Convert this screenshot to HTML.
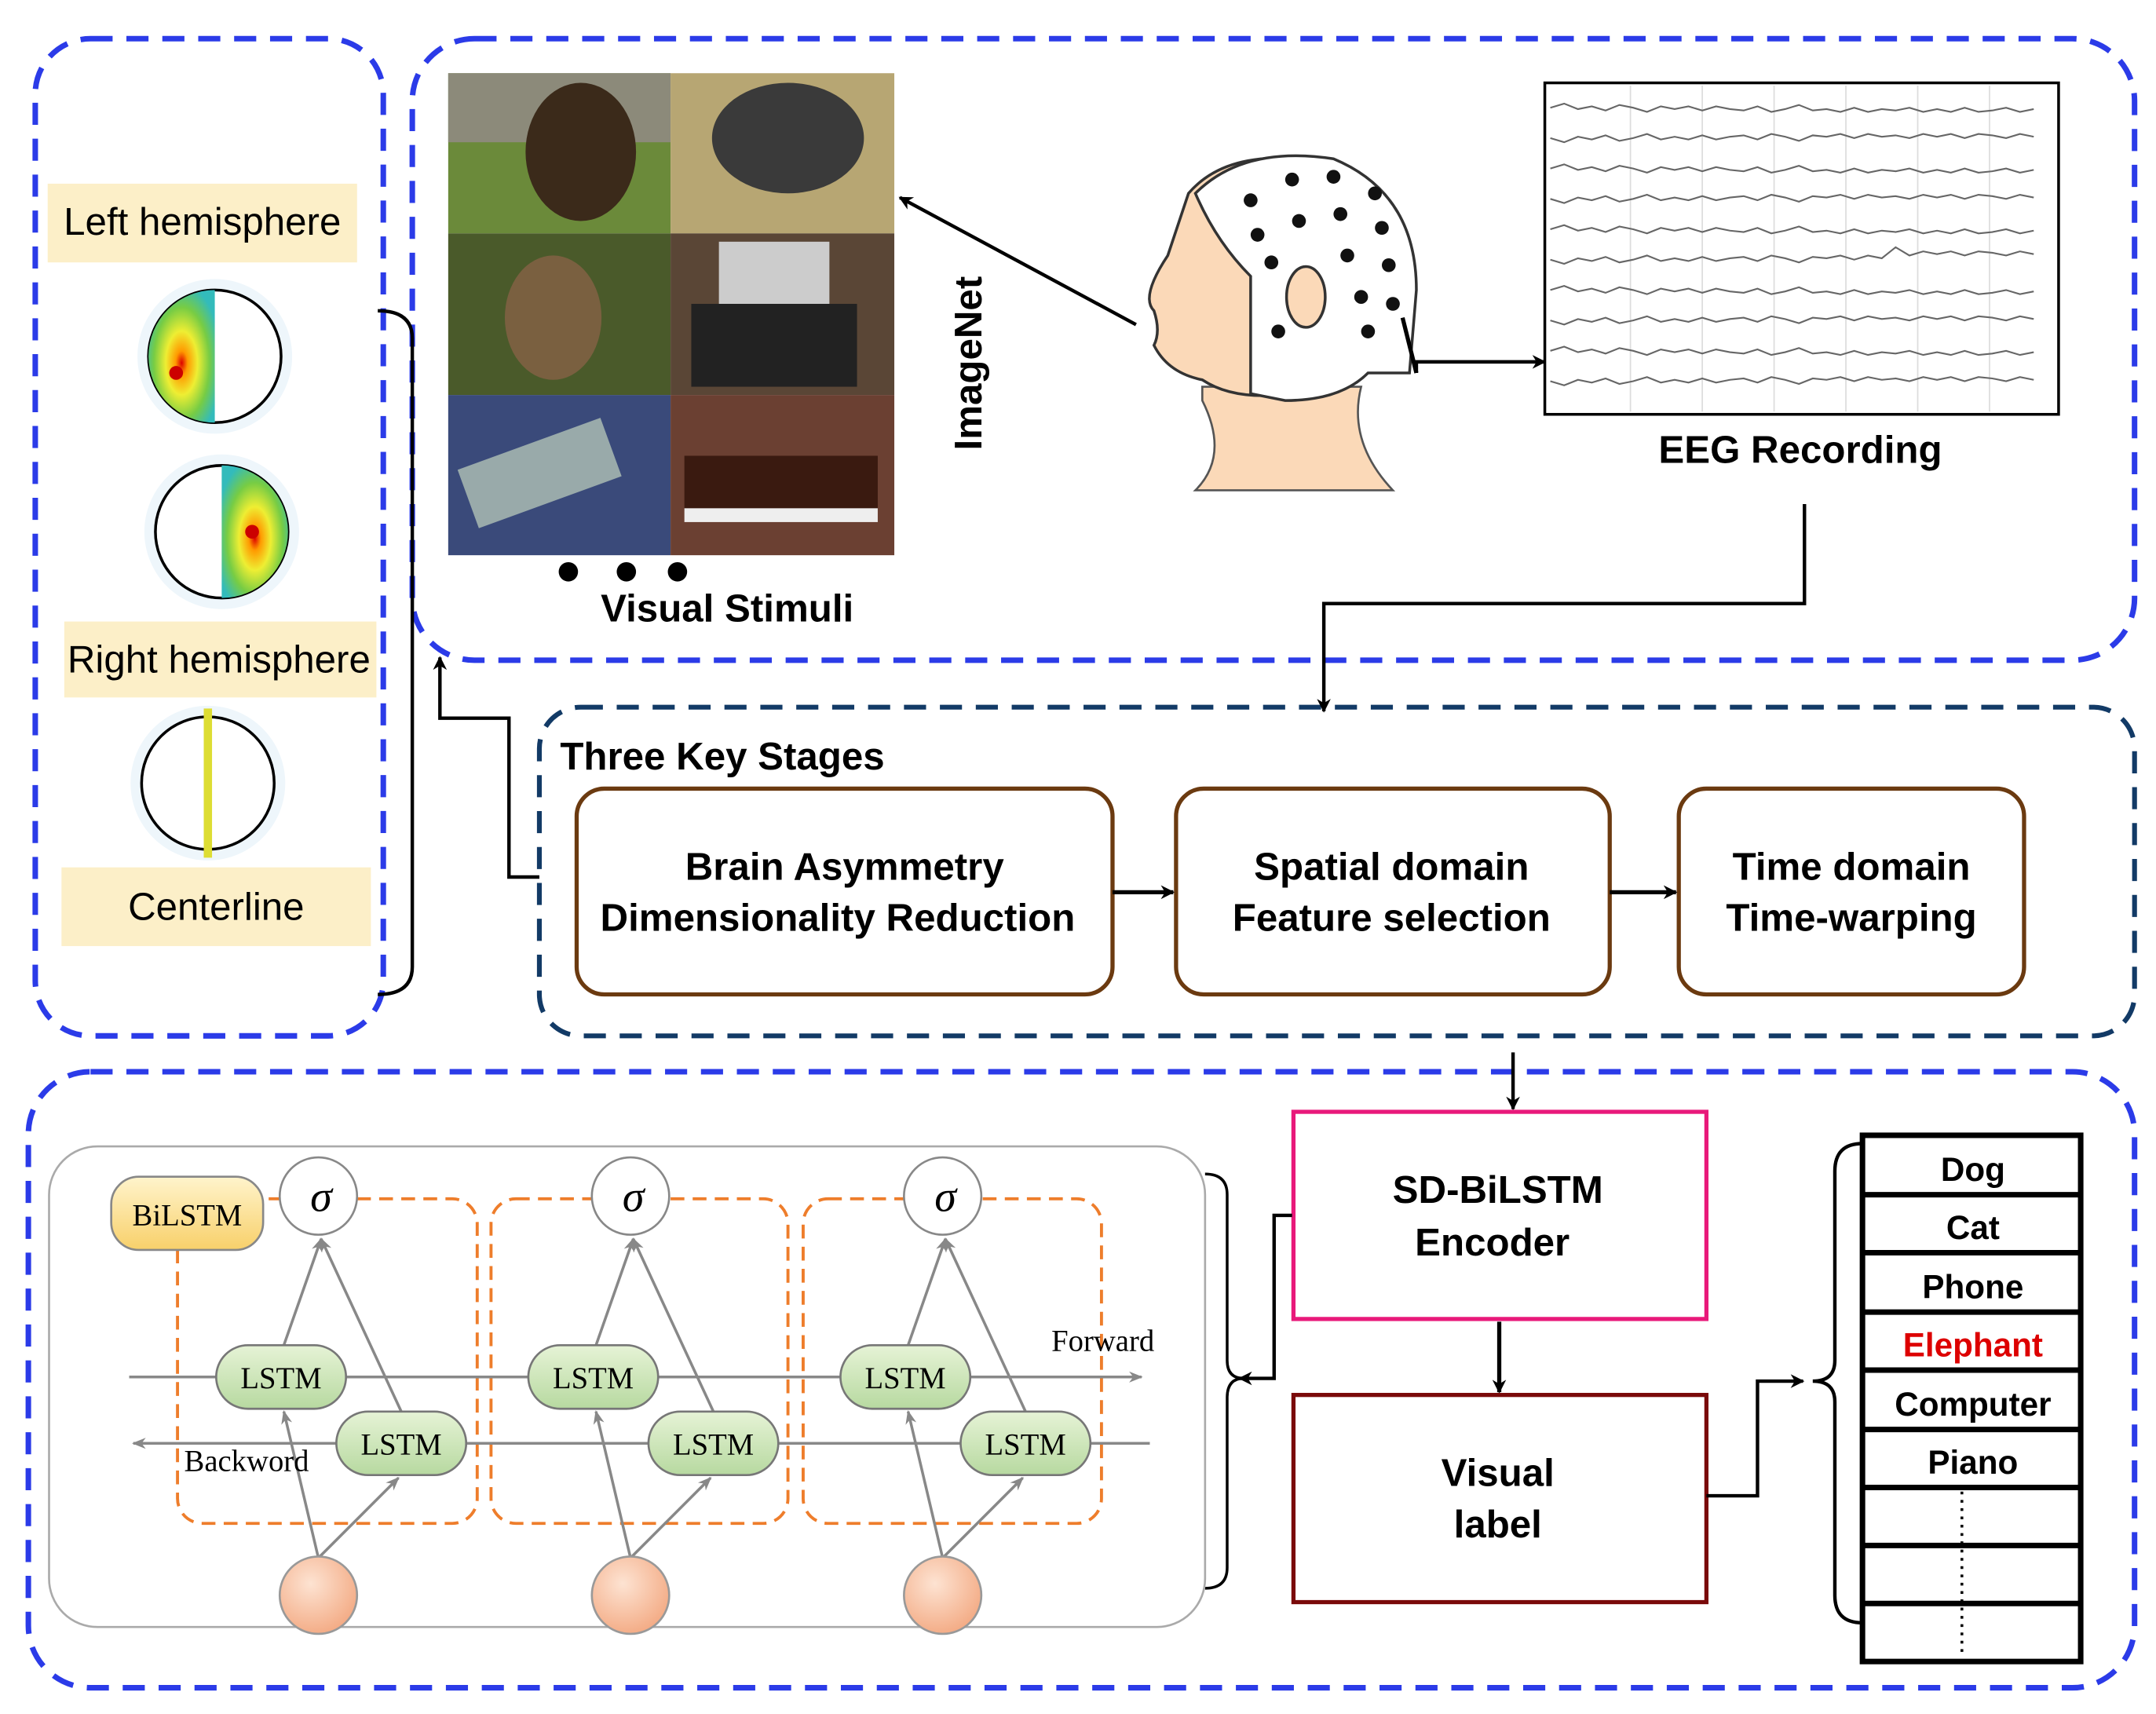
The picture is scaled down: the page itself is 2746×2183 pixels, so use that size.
<!DOCTYPE html>
<html><head><meta charset="utf-8"><style>
html,body{margin:0;padding:0;background:#fff;}
svg{display:block;}
.b{font-family:"Liberation Sans",sans-serif;font-weight:bold;}
.s{font-family:"Liberation Serif",serif;}
</style></head><body>
<svg width="2746" height="2183" viewBox="0 0 1560 1241" xmlns="http://www.w3.org/2000/svg">
<defs>
<marker id="a" markerWidth="10" markerHeight="10" refX="9" refY="5" orient="auto" markerUnits="userSpaceOnUse"><path d="M0,0 L10,5 L0,10 L3,5z" fill="#000"/></marker>
<marker id="ag" markerWidth="10" markerHeight="10" refX="9" refY="5" orient="auto" markerUnits="userSpaceOnUse"><path d="M0,1 L10,5 L0,9 L3,5z" fill="#888"/></marker>
<linearGradient id="gl" x1="0" y1="0" x2="0" y2="1"><stop offset="0" stop-color="#e6f3d6"/><stop offset="1" stop-color="#b7d9a0"/></linearGradient>
<linearGradient id="gy" x1="0" y1="0" x2="0" y2="1"><stop offset="0" stop-color="#fff4cc"/><stop offset="1" stop-color="#f8d06a"/></linearGradient>
<radialGradient id="gp" cx="0.4" cy="0.35" r="0.7"><stop offset="0" stop-color="#fde3d2"/><stop offset="1" stop-color="#f3a982"/></radialGradient>
<radialGradient id="gh" cx="0.5" cy="0.55" r="0.6"><stop offset="0" stop-color="#d00"/><stop offset="0.15" stop-color="#f90"/><stop offset="0.4" stop-color="#ee3"/><stop offset="0.7" stop-color="#7c4"/><stop offset="1" stop-color="#3bb"/></radialGradient>
</defs>

<!-- dashed containers -->
<rect x="25" y="28" width="252" height="722" rx="40" fill="none" stroke="#2b3be8" stroke-width="4" stroke-dasharray="16,10"/>
<rect x="298" y="28" width="1247" height="450" rx="45" fill="none" stroke="#2b3be8" stroke-width="4" stroke-dasharray="16,10"/>
<rect x="390" y="512" width="1155" height="238" rx="30" fill="none" stroke="#123a66" stroke-width="3.5" stroke-dasharray="16,10"/>
<rect x="20" y="776" width="1525" height="446" rx="45" fill="none" stroke="#2b3be8" stroke-width="4" stroke-dasharray="16,10"/>

<!-- left panel -->
<rect x="34" y="133" width="224" height="57" fill="#fcefc8"/>
<text x="146" y="170" font-size="28" text-anchor="middle" font-family="Liberation Sans,sans-serif">Left hemisphere</text>
<g>
<circle cx="155" cy="258" r="56" fill="#eef6fb"/>
<circle cx="155" cy="258" r="48" fill="#fff" stroke="#000" stroke-width="2"/>
<path d="M155,210 A48,48 0 0 0 155,306 Z" fill="url(#gh)"/>
<circle cx="127" cy="270" r="5" fill="#c00"/>
</g>
<g>
<circle cx="160" cy="385" r="56" fill="#eef6fb"/>
<circle cx="160" cy="385" r="48" fill="#fff" stroke="#000" stroke-width="2"/>
<path d="M160,337 A48,48 0 0 1 160,433 Z" fill="url(#gh)"/>
<circle cx="182" cy="385" r="5" fill="#c00"/>
</g>
<rect x="46" y="450" width="226" height="55" fill="#fcefc8"/>
<text x="158" y="487" font-size="28" text-anchor="middle" font-family="Liberation Sans,sans-serif">Right hemisphere</text>
<g>
<circle cx="150" cy="567" r="56" fill="#eef6fb"/>
<circle cx="150" cy="567" r="48" fill="#fff" stroke="#000" stroke-width="2"/>
<rect x="147" y="513" width="6" height="108" fill="#dd3"/>
</g>
<rect x="44" y="628" width="224" height="57" fill="#fcefc8"/>
<text x="156" y="666" font-size="28" text-anchor="middle" font-family="Liberation Sans,sans-serif">Centerline</text>
<path d="M273,225 Q298,225 298,245 L298,700 Q298,720 273,720" fill="none" stroke="#000" stroke-width="2.5"/>
<polyline points="390,635 368,635 368,520 318,520 318,476" fill="none" stroke="#000" stroke-width="2.5" marker-end="url(#a)"/>

<!-- image grid -->
<rect x="324" y="53" width="161" height="116" fill="#6b8a3a"/><rect x="324" y="53" width="161" height="50" fill="#8c8a7a"/><ellipse cx="420" cy="110" rx="40" ry="50" fill="#3b2a1a"/>
<rect x="485" y="53" width="162" height="116" fill="#b7a673"/><ellipse cx="570" cy="100" rx="55" ry="40" fill="#3a3a3a"/>
<rect x="324" y="169" width="161" height="117" fill="#4a5a2a"/><ellipse cx="400" cy="230" rx="35" ry="45" fill="#7a6040"/>
<rect x="485" y="169" width="162" height="117" fill="#5a4636"/><rect x="520" y="175" width="80" height="45" fill="#ccc"/><rect x="500" y="220" width="120" height="60" fill="#222"/>
<rect x="324" y="286" width="161" height="116" fill="#3a4a7a"/><rect x="335" y="320" width="110" height="45" fill="#9aa" transform="rotate(-20 390 342)"/>
<rect x="485" y="286" width="162" height="116" fill="#6b4032"/><rect x="495" y="330" width="140" height="40" fill="#3a1a10"/><rect x="495" y="368" width="140" height="10" fill="#eee"/>
<circle cx="411" cy="414" r="7"/><circle cx="453" cy="414" r="7"/><circle cx="490" cy="414" r="7"/>
<text x="526" y="450" font-size="28" text-anchor="middle" class="b">Visual Stimuli</text>
<text transform="translate(710,263) rotate(-90)" font-size="28" text-anchor="middle" class="b">ImageNet</text>
<line x1="822" y1="235" x2="651" y2="143" stroke="#000" stroke-width="2.5" marker-end="url(#a)"/>

<!-- head -->
<path d="M870,290 Q890,330 865,355 L1008,355 Q975,320 985,280 L870,280 Z" fill="#fbd9b8" stroke="#555" stroke-width="1.5"/>
<path d="M860,140 Q850,170 845,185 Q825,215 835,225 Q840,240 835,250 Q845,270 870,275 Q900,295 960,280 Q1000,270 1010,240 L1020,200 Q1020,140 960,118 Q890,105 860,140 Z" fill="#fbd9b8" stroke="#333" stroke-width="2"/>
<path d="M865,140 Q900,105 965,115 Q1025,140 1025,210 L1020,270 L990,270 Q970,290 930,290 L905,285 L905,200 Q880,175 865,140 Z" fill="#fff" stroke="#333" stroke-width="2"/>
<ellipse cx="945" cy="215" rx="14" ry="22" fill="#fbd9b8" stroke="#333" stroke-width="2"/>
<g fill="#111">
<circle cx="905" cy="145" r="5"/><circle cx="935" cy="130" r="5"/><circle cx="965" cy="128" r="5"/><circle cx="995" cy="140" r="5"/>
<circle cx="910" cy="170" r="5"/><circle cx="940" cy="160" r="5"/><circle cx="970" cy="155" r="5"/><circle cx="1000" cy="165" r="5"/>
<circle cx="920" cy="190" r="5"/><circle cx="975" cy="185" r="5"/><circle cx="1005" cy="192" r="5"/>
<circle cx="985" cy="215" r="5"/><circle cx="1008" cy="220" r="5"/><circle cx="925" cy="240" r="5"/><circle cx="990" cy="240" r="5"/>
</g>
<path d="M1015,230 L1025,270" stroke="#000" stroke-width="3"/>
<polyline points="1025,270 1025,262 1118,262" fill="none" stroke="#000" stroke-width="2.5" marker-end="url(#a)"/>

<!-- EEG -->
<rect x="1118" y="60" width="372" height="240" fill="#fff" stroke="#000" stroke-width="2"/>
<g stroke="#ddd" stroke-width="1">
<line x1="1180" y1="62" x2="1180" y2="298"/><line x1="1232" y1="62" x2="1232" y2="298"/><line x1="1284" y1="62" x2="1284" y2="298"/><line x1="1336" y1="62" x2="1336" y2="298"/><line x1="1388" y1="62" x2="1388" y2="298"/><line x1="1440" y1="62" x2="1440" y2="298"/>
</g>
<g fill="none" stroke="#666" stroke-width="1.2">
<path d="M1122,78 l10,-3 10,4 10,-2 10,3 10,-4 10,2 10,3 10,-4 10,2 10,-2 10,3 10,-3 10,2 10,1 10,-3 10,4 10,-2 10,-3 10,4 10,-1 10,2 10,-3 10,3 10,-2 10,1 10,-2 10,3 10,-2 10,2 10,-3 10,3 10,-1 10,-2 10,3 10,-2"/>
<path d="M1122,100 l10,3 10,-4 10,2 10,-3 10,4 10,-2 10,-3 10,4 10,-2 10,2 10,-3 10,3 10,-2 10,-1 10,3 10,-4 10,2 10,3 10,-4 10,1 10,-2 10,3 10,-3 10,2 10,-1 10,2 10,-3 10,2 10,-2 10,3 10,-3 10,1 10,2 10,-3 10,2"/>
<path d="M1122,122 l10,-3 10,4 10,-2 10,3 10,-4 10,2 10,3 10,-4 10,2 10,-2 10,3 10,-3 10,2 10,1 10,-3 10,4 10,-2 10,-3 10,4 10,-1 10,2 10,-3 10,3 10,-2 10,1 10,-2 10,3 10,-2 10,2 10,-3 10,3 10,-1 10,-2 10,3 10,-2"/>
<path d="M1122,144 l10,3 10,-4 10,2 10,-3 10,4 10,-2 10,-3 10,4 10,-2 10,2 10,-3 10,3 10,-2 10,-1 10,3 10,-4 10,2 10,3 10,-4 10,1 10,-2 10,3 10,-3 10,2 10,-1 10,2 10,-3 10,2 10,-2 10,3 10,-3 10,1 10,2 10,-3 10,2"/>
<path d="M1122,166 l10,-3 10,4 10,-2 10,3 10,-4 10,2 10,3 10,-4 10,2 10,-2 10,3 10,-3 10,2 10,1 10,-3 10,4 10,-2 10,-3 10,4 10,-1 10,2 10,-3 10,3 10,-2 10,1 10,-2 10,3 10,-2 10,2 10,-3 10,3 10,-1 10,-2 10,3 10,-2"/>
<path d="M1122,188 l10,3 10,-4 10,2 10,-3 10,4 10,-2 10,-3 10,4 10,-2 10,2 10,-3 10,3 10,-2 10,-1 10,3 10,-4 10,2 10,3 10,-4 10,1 10,-2 10,3 10,-3 10,2 10,-8 10,6 10,-3 10,2 10,-2 10,3 10,-3 10,1 10,2 10,-3 10,2"/>
<path d="M1122,210 l10,-3 10,4 10,-2 10,3 10,-4 10,2 10,3 10,-4 10,2 10,-2 10,3 10,-3 10,2 10,1 10,-3 10,4 10,-2 10,-3 10,4 10,-1 10,2 10,-3 10,3 10,-2 10,1 10,-2 10,3 10,-2 10,2 10,-3 10,3 10,-1 10,-2 10,3 10,-2"/>
<path d="M1122,232 l10,3 10,-4 10,2 10,-3 10,4 10,-2 10,-3 10,4 10,-2 10,2 10,-3 10,3 10,-2 10,-1 10,3 10,-4 10,2 10,3 10,-4 10,1 10,-2 10,3 10,-3 10,2 10,-1 10,2 10,-3 10,2 10,-2 10,3 10,-3 10,1 10,2 10,-3 10,2"/>
<path d="M1122,254 l10,-3 10,4 10,-2 10,3 10,-4 10,2 10,3 10,-4 10,2 10,-2 10,3 10,-3 10,2 10,1 10,-3 10,4 10,-2 10,-3 10,4 10,-1 10,2 10,-3 10,3 10,-2 10,1 10,-2 10,3 10,-2 10,2 10,-3 10,3 10,-1 10,-2 10,3 10,-2"/>
<path d="M1122,276 l10,3 10,-4 10,2 10,-3 10,4 10,-2 10,-3 10,4 10,-2 10,2 10,-3 10,3 10,-2 10,-1 10,3 10,-4 10,2 10,3 10,-4 10,1 10,-2 10,3 10,-3 10,2 10,-1 10,2 10,-3 10,2 10,-2 10,3 10,-3 10,1 10,2 10,-3 10,2"/>
</g>
<text x="1303" y="335" font-size="28" text-anchor="middle" class="b">EEG Recording</text>
<polyline points="1306,365 1306,437 958,437 958,515" fill="none" stroke="#000" stroke-width="2.5" marker-end="url(#a)"/>

<!-- three stages -->
<text x="405" y="557" font-size="28" class="b">Three Key Stages</text>
<g fill="#fff" stroke="#6b3a10" stroke-width="3">
<rect x="417" y="571" width="388" height="149" rx="20"/>
<rect x="851" y="571" width="314" height="149" rx="20"/>
<rect x="1215" y="571" width="250" height="149" rx="20"/>
</g>
<g font-size="28" text-anchor="middle" class="b">
<text x="611" y="637">Brain Asymmetry</text><text x="606" y="674">Dimensionality Reduction</text>
<text x="1007" y="637">Spatial domain</text><text x="1007" y="674">Feature selection</text>
<text x="1340" y="637">Time domain</text><text x="1340" y="674">Time-warping</text>
</g>
<line x1="805" y1="646" x2="849" y2="646" stroke="#000" stroke-width="3" marker-end="url(#a)"/>
<line x1="1165" y1="646" x2="1213" y2="646" stroke="#000" stroke-width="3" marker-end="url(#a)"/>
<line x1="1095" y1="762" x2="1095" y2="803" stroke="#000" stroke-width="2.5" marker-end="url(#a)"/>

<!-- SD-BiLSTM -->
<rect x="936" y="805" width="299" height="150" fill="#fff" stroke="#e8197a" stroke-width="3"/>
<text x="1084" y="871" font-size="28" text-anchor="middle" class="b">SD-BiLSTM</text>
<text x="1080" y="909" font-size="28" text-anchor="middle" class="b">Encoder</text>
<line x1="1085" y1="957" x2="1085" y2="1008" stroke="#000" stroke-width="3" marker-end="url(#a)"/>
<rect x="936" y="1010" width="299" height="150" fill="#fff" stroke="#7a0a0a" stroke-width="3"/>
<text x="1084" y="1076" font-size="28" text-anchor="middle" class="b">Visual</text>
<text x="1084" y="1113" font-size="28" text-anchor="middle" class="b">label</text>
<polyline points="1235,1083 1272,1083 1272,1000 1305,1000" fill="none" stroke="#000" stroke-width="2.5" marker-end="url(#a)"/>
<path d="M1348,828 Q1328,828 1328,848 L1328,985 Q1328,1000 1312,1000 Q1328,1000 1328,1015 L1328,1155 Q1328,1175 1348,1175" fill="none" stroke="#000" stroke-width="2.5"/>
<polyline points="935,880 922,880 922,998 897,998" fill="none" stroke="#000" stroke-width="2.5" marker-end="url(#a)"/>
<path d="M872,850 Q888,850 888,865 L888,985 Q888,998 900,998 Q888,998 888,1012 L888,1135 Q888,1150 872,1150" fill="none" stroke="#000" stroke-width="2"/>

<!-- class list -->
<rect x="1348" y="822" width="158" height="381" fill="#fff" stroke="#000" stroke-width="4"/>
<g stroke="#000" stroke-width="4">
<line x1="1348" y1="865" x2="1506" y2="865"/><line x1="1348" y1="907" x2="1506" y2="907"/><line x1="1348" y1="950" x2="1506" y2="950"/><line x1="1348" y1="992" x2="1506" y2="992"/><line x1="1348" y1="1035" x2="1506" y2="1035"/><line x1="1348" y1="1077" x2="1506" y2="1077"/><line x1="1348" y1="1119" x2="1506" y2="1119"/><line x1="1348" y1="1161" x2="1506" y2="1161"/>
</g>
<g font-size="24" text-anchor="middle" class="b">
<text x="1428" y="855">Dog</text><text x="1428" y="897">Cat</text><text x="1428" y="940">Phone</text>
<text x="1428" y="982" fill="#d00">Elephant</text><text x="1428" y="1025">Computer</text><text x="1428" y="1067">Piano</text>
</g>
<line x1="1420" y1="1080" x2="1420" y2="1200" stroke="#000" stroke-width="2" stroke-dasharray="2,4"/>

<!-- BiLSTM panel -->
<rect x="35" y="830" width="837" height="348" rx="35" fill="#fff" stroke="#aaa" stroke-width="1.5"/>
<g fill="none" stroke="#ee7d2b" stroke-width="2.2" stroke-dasharray="10,6">
<rect x="128" y="868" width="217" height="235" rx="18"/>
<rect x="355" y="868" width="215" height="235" rx="18"/>
<rect x="581" y="868" width="216" height="235" rx="18"/>
</g>
<rect x="80" y="852" width="110" height="53" rx="20" fill="url(#gy)" stroke="#888" stroke-width="1.5"/>
<text x="135" y="887" font-size="22" text-anchor="middle" class="s">BiLSTM</text>
<g stroke="#888" stroke-width="2" fill="none">
<line x1="93" y1="997" x2="826" y2="997" marker-end="url(#ag)"/>
<line x1="832" y1="1045" x2="96" y2="1045" marker-end="url(#ag)"/>
</g>
<g stroke="#888" stroke-width="2" fill="none">
<line x1="230" y1="1128" x2="205" y2="1022" marker-end="url(#ag)"/><line x1="230" y1="1128" x2="288" y2="1070" marker-end="url(#ag)"/>
<line x1="205" y1="974" x2="232" y2="897" marker-end="url(#ag)"/><line x1="290" y1="1022" x2="232" y2="897" marker-end="url(#ag)"/>
<line x1="456" y1="1128" x2="431" y2="1022" marker-end="url(#ag)"/><line x1="456" y1="1128" x2="514" y2="1070" marker-end="url(#ag)"/>
<line x1="431" y1="974" x2="458" y2="897" marker-end="url(#ag)"/><line x1="516" y1="1022" x2="458" y2="897" marker-end="url(#ag)"/>
<line x1="682" y1="1128" x2="657" y2="1022" marker-end="url(#ag)"/><line x1="682" y1="1128" x2="740" y2="1070" marker-end="url(#ag)"/>
<line x1="657" y1="974" x2="684" y2="897" marker-end="url(#ag)"/><line x1="742" y1="1022" x2="684" y2="897" marker-end="url(#ag)"/>
</g>
<g fill="url(#gl)" stroke="#777" stroke-width="1.5">
<rect x="156" y="974" width="94" height="46" rx="23"/><rect x="382" y="974" width="94" height="46" rx="23"/><rect x="608" y="974" width="94" height="46" rx="23"/>
<rect x="243" y="1022" width="94" height="46" rx="23"/><rect x="469" y="1022" width="94" height="46" rx="23"/><rect x="695" y="1022" width="94" height="46" rx="23"/>
</g>
<g font-size="22" text-anchor="middle" class="s">
<text x="203" y="1005">LSTM</text><text x="429" y="1005">LSTM</text><text x="655" y="1005">LSTM</text>
<text x="290" y="1053">LSTM</text><text x="516" y="1053">LSTM</text><text x="742" y="1053">LSTM</text>
<text x="798" y="978">Forward</text><text x="178" y="1065">Backword</text>
</g>
<g fill="#fff" stroke="#888" stroke-width="1.5">
<circle cx="230" cy="866" r="28"/><circle cx="456" cy="866" r="28"/><circle cx="682" cy="866" r="28"/>
</g>
<g font-size="32" text-anchor="middle" class="s" font-style="italic">
<text x="232" y="877">σ</text><text x="458" y="877">σ</text><text x="684" y="877">σ</text>
</g>
<g fill="url(#gp)" stroke="#999" stroke-width="1.5">
<circle cx="230" cy="1155" r="28"/><circle cx="456" cy="1155" r="28"/><circle cx="682" cy="1155" r="28"/>
</g>
</svg>
</body></html>
